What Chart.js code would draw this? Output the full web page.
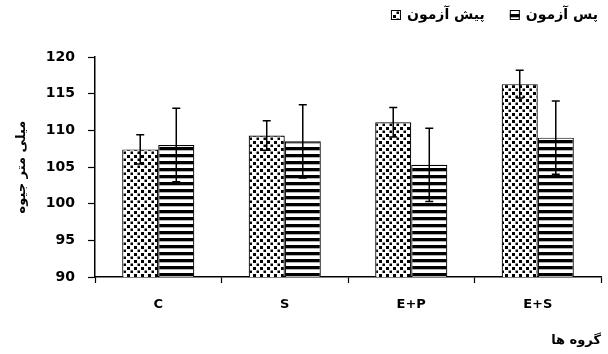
<!DOCTYPE html>
<html>
<head>
<meta charset="utf-8">
<script src="https://cdn.jsdelivr.net/npm/chart.js@4"></script>
<style>
  html, body { margin: 0; padding: 0; background: #fff; }
  #wrap { width: 608px; height: 354px; }
</style>
</head>
<body>
<div id="wrap"><canvas id="chart" width="608" height="354"></canvas></div>
<script>
const categories = ["C", "S", "E+P", "E+S"]
const seriesLabels = ["پیش آزمون", "پس آزمون"]
const preValues = [107.4, 109.3, 111.1, 116.3]
const preErrors = [2.0, 2.0, 2.0, 1.9]
const postValues = [108.0, 108.5, 105.3, 109.0]
const postErrors = [5.0, 5.0, 5.0, 5.0]
const yMin = 90
const yMax = 120
const yStep = 5

function dotPattern() {
  const c = document.createElement("canvas")
  c.width = 7
  c.height = 7
  const g = c.getContext("2d")
  g.fillStyle = "#fff"
  g.fillRect(0, 0, 7, 7)
  g.fillStyle = "#000"
  g.fillRect(1, 1, 3, 3)
  g.fillRect(4.5, 4.5, 3, 3)
  return g.createPattern(c, "repeat")
}

function stripePattern() {
  const c = document.createElement("canvas")
  c.width = 7
  c.height = 7
  const g = c.getContext("2d")
  g.fillStyle = "#fff"
  g.fillRect(0, 0, 7, 7)
  g.fillStyle = "#000"
  g.fillRect(0, 0, 7, 3.3)
  return g.createPattern(c, "repeat")
}

const errorsByDataset = [preErrors, postErrors]

const errorBars = {
  id: "errorBars",
  afterDatasetsDraw(chart) {
    const ctx = chart.ctx
    const y = chart.scales.y
    ctx.save()
    ctx.strokeStyle = "#000"
    ctx.lineWidth = 1.5
    chart.data.datasets.forEach((ds, i) => {
      const meta = chart.getDatasetMeta(i)
      meta.data.forEach((bar, j) => {
        const v = ds.data[j]
        const e = errorsByDataset[i][j]
        const top = y.getPixelForValue(v + e)
        const bot = y.getPixelForValue(v - e)
        ctx.beginPath()
        ctx.moveTo(bar.x, top)
        ctx.lineTo(bar.x, bot)
        ctx.moveTo(bar.x - 4, top)
        ctx.lineTo(bar.x + 4, top)
        ctx.moveTo(bar.x - 4, bot)
        ctx.lineTo(bar.x + 4, bot)
        ctx.stroke()
      })
    })
    ctx.restore()
  }
}

// legend drawn by hand: box on the left of each label, right aligned
const legendRtl = {
  id: "legendRtl",
  afterDraw(chart) {
    const ctx = chart.ctx
    ctx.save()
    ctx.font = "bold 14px 'DejaVu Sans', sans-serif"
    ctx.textBaseline = "middle"
    ctx.textAlign = "right"
    let right = 598
    const yMid = 15
    for (let i = chart.data.datasets.length - 1; i >= 0; i--) {
      const ds = chart.data.datasets[i]
      const w = ctx.measureText(ds.label).width
      ctx.fillStyle = "#000"
      ctx.fillText(ds.label, right, yMid)
      const bx = right - w - 16
      ctx.fillStyle = ds.backgroundColor
      ctx.fillRect(bx, yMid - 5, 10, 10)
      ctx.strokeStyle = "#000"
      ctx.lineWidth = 1
      ctx.strokeRect(bx + 0.5, yMid - 4.5, 9, 9)
      right = bx - 25
    }
    ctx.restore()
  }
}

const ctx = document.getElementById("chart")
new Chart(ctx, {
  type: "bar",
  data: {
    labels: categories,
    datasets: [
      {
        label: seriesLabels[0],
        data: preValues,
        backgroundColor: dotPattern(),
        borderColor: "#000",
        borderWidth: 1.2,
        categoryPercentage: 0.57,
        barPercentage: 1,
      },
      {
        label: seriesLabels[1],
        data: postValues,
        backgroundColor: stripePattern(),
        borderColor: "#000",
        borderWidth: 1.2,
        categoryPercentage: 0.57,
        barPercentage: 1,
      },
    ],
  },
  options: {
    responsive: false,
    animation: false,
    events: [],
    layout: { padding: { top: 57, right: 7, left: 0, bottom: 0 } },
    plugins: {
      legend: { display: false },
      tooltip: { enabled: false },
    },
    scales: {
      x: {
        afterFit(scale) { scale.height = 77 },
        border: { color: "#000", width: 1.5 },
        grid: { offset: true, drawOnChartArea: false, tickLength: 6, tickColor: "#000", tickWidth: 1.2 },
        ticks: {
          color: "#000",
          padding: 14,
          font: { family: "'DejaVu Sans', sans-serif", size: 13, weight: "bold" },
        },
        title: {
          display: true,
          text: "گروه ها",
          align: "end",
          color: "#000",
          padding: { top: 0, bottom: 6 },
          font: { family: "'DejaVu Sans', sans-serif", size: 13, weight: "bold" },
        },
      },
      y: {
        min: yMin,
        max: yMax,
        afterFit(scale) { scale.width = 95 },
        border: { color: "#000", width: 1.5 },
        grid: { drawOnChartArea: false, tickLength: 7, tickColor: "#000", tickWidth: 1.2 },
        ticks: {
          stepSize: yStep,
          color: "#000",
          padding: 13,
          font: { family: "'DejaVu Sans', sans-serif", size: 14, weight: "bold" },
        },
        title: {
          display: true,
          text: "میلی متر جیوه",
          color: "#000",
          padding: { top: 14, bottom: 0 },
          font: { family: "'DejaVu Sans', sans-serif", size: 13, weight: "bold" },
        },
      },
    },
  },
  plugins: [errorBars, legendRtl],
})
</script>
</body>
</html>
